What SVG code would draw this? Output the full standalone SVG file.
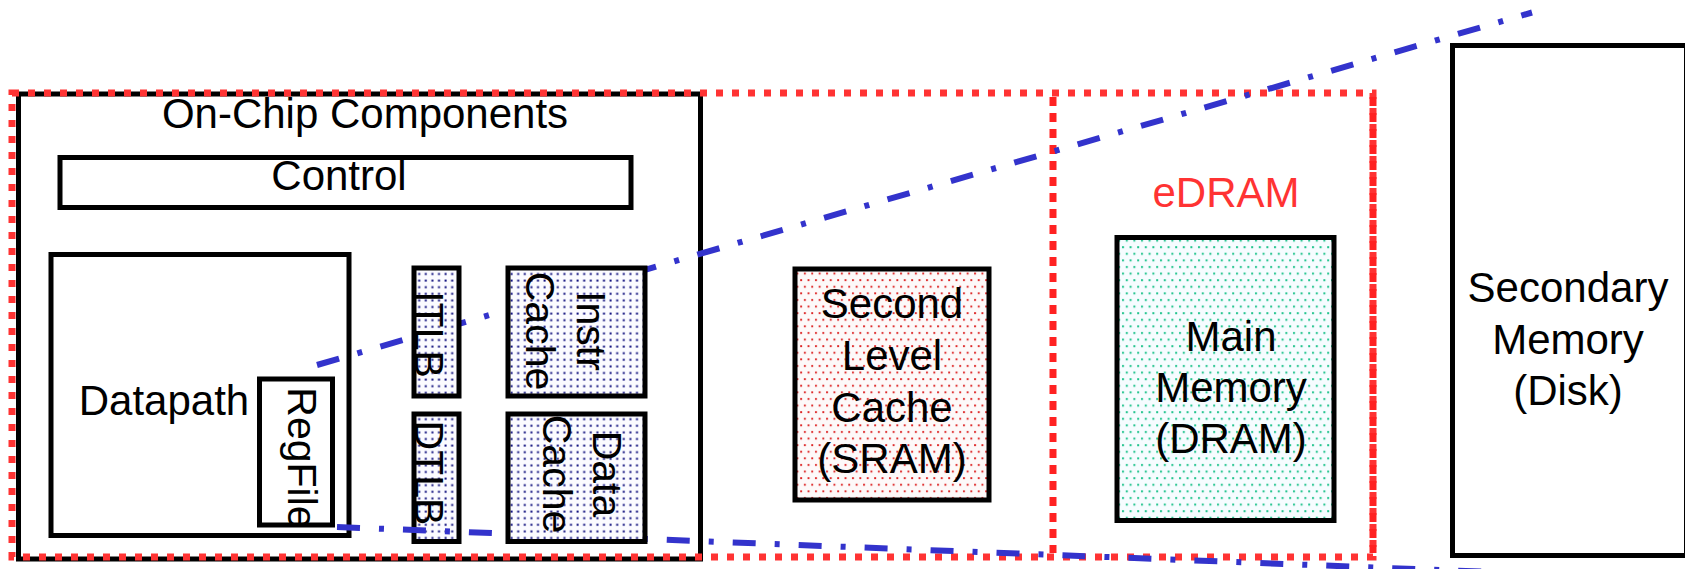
<svg xmlns="http://www.w3.org/2000/svg" width="1685" height="569" viewBox="0 0 1685 569">
<style>
.box{fill:none;stroke:#000;stroke-width:5}
.t{font-family:"Liberation Sans",Arial,sans-serif;font-size:42px;fill:#000;text-anchor:middle}
.r{font-family:"Liberation Sans",Arial,sans-serif;font-size:41px;fill:#000;text-anchor:middle}
.red{fill:none;stroke:#FF3333;stroke-width:7;stroke-dasharray:7 9}
.redv{fill:none;stroke:#FF2222;stroke-width:7;stroke-dasharray:9 7}
.blue{fill:none;stroke:#3333CC;stroke-width:6;stroke-dasharray:23 19 5 19}
</style>
<defs>
<pattern id="pBlue" width="6.6" height="6.6" patternUnits="userSpaceOnUse">
<rect width="6.6" height="6.6" fill="#fbfbff"/>
<rect x="2.4" y="2.4" width="2" height="2" fill="#141480"/>
</pattern>
<pattern id="pRed" width="7.4" height="13.2" patternUnits="userSpaceOnUse">
<rect width="7.4" height="13.2" fill="#fdf9f9"/>
<rect x="1" y="2" width="1.9" height="1.9" fill="#dd2525"/>
<rect x="4.7" y="8.6" width="1.9" height="1.9" fill="#dd2525"/>
</pattern>
<pattern id="pGreen" width="7.6" height="13.2" patternUnits="userSpaceOnUse">
<rect width="7.6" height="13.2" fill="#f6fcff"/>
<rect x="1" y="2" width="2" height="2" fill="#22c48e"/>
<rect x="4.8" y="8.6" width="2" height="2" fill="#22c48e"/>
</pattern>
</defs>

<g id="onchip">
<rect class="box" x="18.5" y="94" width="682" height="465"/>
<text class="t" x="365" y="128">On-Chip Components</text>
</g>
<g id="control">
<rect class="box" x="60" y="157.5" width="571" height="50"/>
<text class="t" x="339" y="190">Control</text>
</g>
<g id="datapath">
<rect class="box" x="51" y="254.5" width="298" height="281"/>
<text class="t" x="164" y="415">Datapath</text>
</g>
<g id="regfile">
<rect class="box" x="259.5" y="379" width="73" height="146"/>
<text class="r" transform="translate(288,458) rotate(90)">RegFile</text>
</g>
<g id="dtlb">
<rect class="box" x="414" y="414" width="45" height="127.5" style="fill:url(#pBlue)"/>
<text class="r" transform="translate(415,473) rotate(90)">DTLB</text>
</g>

<g id="regions">
<rect class="red" x="12" y="93" width="1361" height="464"/>
<line class="redv" x1="1053" y1="97" x2="1053" y2="553"/>
<line class="redv" x1="1373" y1="97" x2="1373" y2="553"/>
</g>

<g id="connectors">
<line class="blue" x1="317" y1="365" x2="1532" y2="12.5"/>
<line class="blue" x1="337" y1="527" x2="1532" y2="573.6"/>
</g>

<g id="itlb">
<rect class="box" x="414" y="268" width="45" height="128" style="fill:url(#pBlue)"/>
<text class="r" transform="translate(415,334.5) rotate(90)">ITLB</text>
</g>
<g id="icache">
<rect class="box" x="508" y="268" width="137" height="128" style="fill:url(#pBlue)"/>
<text class="r" transform="translate(577,331) rotate(90)">Instr</text>
<text class="r" transform="translate(526,331) rotate(90)">Cache</text>
</g>
<g id="dcache">
<rect class="box" x="508" y="414" width="137" height="127.5" style="fill:url(#pBlue)"/>
<text class="r" transform="translate(593,474) rotate(90)">Data</text>
<text class="r" transform="translate(543,474) rotate(90)">Cache</text>
</g>

<g id="l2cache">
<rect class="box" x="795" y="269" width="194" height="231" style="fill:url(#pRed)"/>
<text class="t" x="892" y="318">Second</text>
<text class="t" x="892" y="370">Level</text>
<text class="t" x="892" y="422">Cache</text>
<text class="t" x="892" y="473">(SRAM)</text>
</g>
<g id="edram">
<text class="t" x="1226" y="207" style="fill:#FF3333">eDRAM</text>
</g>
<g id="mainmem">
<rect class="box" x="1117" y="237.5" width="217" height="283" style="fill:url(#pGreen)"/>
<text class="t" x="1231" y="351">Main</text>
<text class="t" x="1231" y="402">Memory</text>
<text class="t" x="1231" y="453">(DRAM)</text>
</g>
<g id="secondary">
<rect class="box" x="1452.5" y="45.5" width="234" height="510" style="fill:#fff"/>
<text class="t" x="1568" y="302">Secondary</text>
<text class="t" x="1568" y="354">Memory</text>
<text class="t" x="1568" y="405">(Disk)</text>
</g>
</svg>
